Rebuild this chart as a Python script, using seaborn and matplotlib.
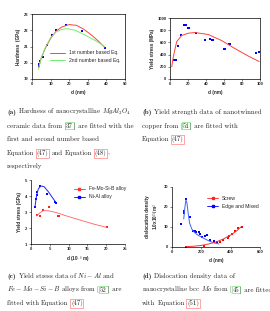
import numpy as np
import pandas as pd
import matplotlib
matplotlib.use("Agg")
import matplotlib.pyplot as plt
from matplotlib.lines import Line2D
import seaborn as sns

# (a) hardness of MgAl2O4
a_d = [3.5, 3.8, 4.0, 4.5, 5.9, 8.3, 11.0, 12.8, 18.5, 27.0, 39.2]
a_h = [19.8, 19.9, 19.95, 20.08, 20.36, 21.08, 21.7, 22.0, 22.3, 21.94, 20.92]
a_fit1_d = [3.5, 5, 7, 10, 13, 16, 20, 24, 28, 32, 36, 39]
a_fit1_h = [19.7, 20.3, 20.85, 21.5, 21.95, 22.2, 22.35, 22.3, 22.05, 21.7, 21.3, 20.95]
a_fit2_d = [3.5, 5, 7, 10, 13, 16, 19, 23, 27, 31, 35, 39]
a_fit2_h = [19.6, 20.3, 20.9, 21.55, 21.9, 22.05, 22.1, 22.0, 21.8, 21.55, 21.3, 21.0]

# (b) yield strength of nanotwinned copper
b_d = [4.8, 6.7, 9.3, 11.9, 15.9, 17.4, 20.4, 21.5, 28.5, 38.9, 44.4, 46.3, 48.0,
       60.4, 61.0, 65.5, 66.7, 96.0, 99.0]
b_s = [309, 309, 547, 718, 878, 890, 834, 834, 751, 641, 657, 641, 635,
       486, 492, 570, 570, 431, 442]
b_fit_d = [1.9, 3.7, 7.4, 13, 20.4, 27.8, 42.6, 57.4, 72, 87, 99]
b_fit_s = [199, 365, 613, 713, 751, 762, 729, 630, 500, 376, 287]

# (c) yield stress of alloys
c_fe_d = [1.7, 2.4, 3.1, 4.9, 7.3, 7.5, 20.3]
c_fe_s = [2.81, 2.75, 3.13, 3.29, 2.77, 2.77, 2.04]
c_fe_fit_d = [1.5, 2.4, 3.3, 4.6, 6.8, 9.5, 13, 16.6, 20.1]
c_fe_fit_s = [2.75, 2.96, 3.08, 3.08, 2.96, 2.75, 2.5, 2.25, 2.04]
c_ni_d = [1.06, 1.24, 1.5, 1.6, 2.4, 4.3, 6.4, 6.6]
c_ni_s = [3.33, 3.79, 4.08, 4.27, 4.63, 4.13, 3.6, 3.56]
c_ni_fit_d = [1.06, 1.5, 1.95, 2.6, 3.5, 4.6, 5.7, 6.6]
c_ni_fit_s = [3.33, 4.06, 4.44, 4.63, 4.58, 4.27, 3.9, 3.6]

# (d) dislocation density of bcc Mo
d_edge_d = [61, 79, 84, 97, 120, 140, 154, 165, 181, 188, 204, 226, 240, 260, 283, 306]
d_edge_r = [11.7, 17, 18, 24.2, 15, 7.8, 7.8, 7.5, 7.5, 6.7, 4.8, 5.3, 6.0, 3.7, 3.2, 2.7]
d_edge_fit_d = [80, 88, 95, 102, 110, 120, 135, 150, 175, 200, 230, 260, 290, 320]
d_edge_fit_r = [14, 20, 23.5, 22, 17, 12, 9, 7.5, 6, 5, 3.8, 2.8, 2.0, 1.5]
d_screw_d = [97, 215, 328, 351, 380, 392, 408, 430, 453, 475]
d_screw_r = [0.2, 0.7, 2.5, 3.3, 4.5, 5.7, 6.7, 8.2, 9.7, 10.0]
d_screw_fit_d = [100, 150, 200, 250, 300, 350, 400, 440, 470]
d_screw_fit_r = [0.2, 0.4, 0.8, 1.5, 2.5, 4.0, 6.0, 8.0, 10.0]

sns.set_theme(style="ticks")
plt.rcParams["font.family"] = ["Liberation Sans", "DejaVu Sans"]
plt.rcParams["mathtext.fontset"] = "cm"
plt.rcParams["axes.linewidth"] = 0.5

W, H = 270, 311
fig = plt.figure(figsize=(W / 100, H / 100), dpi=100)


def place(l, t, r, b):
    return fig.add_axes([l / W, 1 - b / H, (r - l) / W, (b - t) / H])


def style(ax, xlabel, ylabel, box=True):
    ax.tick_params(length=1.5, width=0.4, pad=1, labelsize=3)
    for lab in ax.get_xticklabels() + ax.get_yticklabels():
        lab.set_fontweight("bold")
    ax.set_xlabel(xlabel, fontsize=3.3, fontweight="bold", labelpad=2.5)
    ax.set_ylabel(ylabel, fontsize=3.3, fontweight="bold", labelpad=2)
    for s in ax.spines.values():
        s.set_linewidth(0.5)
        s.set_color("black")
    if not box:
        ax.spines["top"].set_visible(False)
        ax.spines["right"].set_visible(False)


mk = dict(marker="s", s=2.8, linewidth=0)

# (a)
ax = place(32, 14, 125, 79)
sns.lineplot(x=a_fit1_d, y=a_fit1_h, color="#ff4040", lw=0.7, sort=False,
             label="1st number based Eq.", ax=ax)
sns.lineplot(x=a_fit2_d, y=a_fit2_h, color="#70f070", lw=0.7, sort=False,
             label="2nd number based Eq.", ax=ax)
sns.scatterplot(x=a_d, y=a_h, color="#0000ff", ax=ax, **mk)
ax.set_xlim(0, 50)
ax.set_ylim(19, 23)
ax.set_xticks([0, 10, 20, 30, 40, 50])
ax.set_yticks([19, 20, 21, 22, 23])
ax.legend(loc="lower right", bbox_to_anchor=(1.0, 0.18), fontsize=3.6, frameon=False,
          handlelength=3, labelspacing=0.5)
style(ax, "d (nm)", "Hardness  (GPa)")

# (b)
ax = place(170, 18, 260, 79)
sns.lineplot(x=b_fit_d, y=b_fit_s, color="#ff4040", lw=0.7, sort=False, ax=ax)
sns.scatterplot(x=b_d, y=b_s, color="#0000ff", ax=ax, **mk)
ax.set_xlim(0, 100)
ax.set_ylim(0, 1000)
ax.set_xticks([0, 20, 40, 60, 80, 100])
ax.set_yticks([0, 200, 400, 600, 800, 1000])
style(ax, "d (nm)", "Yield stress (MPa)")

# (c)
ax = place(31, 180, 125, 244)
sns.lineplot(x=c_fe_fit_d, y=c_fe_fit_s, color="#ff6060", lw=0.6, sort=False, ax=ax)
sns.lineplot(x=c_ni_fit_d, y=c_ni_fit_s, color="#2020ff", lw=0.7, sort=False, ax=ax)
sns.scatterplot(x=c_fe_d, y=c_fe_s, color="#ff2020", ax=ax, marker="s", s=3.5, linewidth=0)
sns.scatterplot(x=c_ni_d, y=c_ni_s, color="#0000ff", ax=ax, marker="s", s=3.5, linewidth=0)
ax.set_xlim(0, 25)
ax.set_ylim(1, 5)
ax.set_xticks([0, 5, 10, 15, 20, 25])
ax.set_yticks([1, 2, 3, 4, 5])
hc = [Line2D([], [], color="#ff3030", lw=0.6, marker="s", ms=1.8, label="Fe-Mo-Si-B alloy"),
      Line2D([], [], color="#0000ff", lw=0.6, marker="s", ms=1.8, label="Ni-Al alloy")]
ax.legend(handles=hc, loc="upper right", bbox_to_anchor=(1.06, 0.97), fontsize=3.6,
          frameon=False, handlelength=2.2, labelspacing=0.6)
style(ax, r"d (10$^{\mathbf{-8}}$ m)", "Yield stress (GPa)", box=False)

# (d)
ax = place(172, 187, 260, 247)
sns.lineplot(x=d_edge_fit_d, y=d_edge_fit_r, color="#4060ff", lw=0.7, sort=False, ax=ax)
sns.lineplot(x=d_screw_fit_d, y=d_screw_fit_r, color="#ff3030", lw=0.7, sort=False, ax=ax)
sns.scatterplot(x=d_edge_d, y=d_edge_r, color="#0000ff", ax=ax, **mk)
sns.scatterplot(x=d_screw_d, y=d_screw_r, color="#ff0000", ax=ax, **mk)
ax.set_xlim(0, 600)
ax.set_ylim(0, 30)
ax.set_xticks([0, 200, 400, 600])
ax.set_yticks([0, 10, 20, 30])
hd = [Line2D([], [], color="#ff2020", lw=0.6, marker="s", ms=1.8, label="Screw"),
      Line2D([], [], color="#0000ff", lw=0.6, marker="s", ms=1.8, label="Edge and Mixed")]
ax.legend(handles=hd, loc="upper right", bbox_to_anchor=(1.04, 0.93), fontsize=3.6,
          frameon=False, handlelength=2.2, labelspacing=0.6)
style(ax, "d (nm)", "dislocation density\n" + r"1.0x10$^{\mathbf{15}}$/m$^{\mathbf{2}}$", box=False)

# captions, LaTeX-like with boxed links
FS = 4.9
SP = 2.25
renderer = fig.canvas.get_renderer()


def caption(x, y, segs):
    for seg in segs:
        if seg == " ":
            x += SP
            continue
        text, kind = seg
        kw = dict(fontsize=FS, family="cmr10", va="baseline", ha="left", color="#222222")
        if kind == "b":
            kw["family"] = "cmb10"
        elif kind == "cite":
            kw["bbox"] = dict(boxstyle="square,pad=0.12", fc="none", ec="#80dd80", lw=0.5)
        elif kind == "eq":
            kw["bbox"] = dict(boxstyle="square,pad=0.12", fc="none", ec="#ff8080", lw=0.5)
        t = fig.text(x / W, 1 - y / H, text, **kw)
        x += t.get_window_extent(renderer).width
        if kind in ("cite", "eq"):
            x += 0.8


def eq(n):
    return [("Equation", "n"), " ", ("(%s)" % n, "eq")]


caps = [
    (7, 114, [[("(a)", "b"), " ", ("Hardness of nanocrystalline $MgAl_2O_4$", "n")],
              [("ceramic data from [", "n"), ("37", "cite"), ("] are fitted with the", "n")],
              [("first and second number based", "n")],
              eq(47) + [" ", ("and", "n"), " "] + eq(48) + [(",", "n")],
              [("respectively", "n")]]),
    (142, 114, [[("(b)", "b"), " ", ("Yield strength data of nanotwinned", "n")],
                [("copper from [", "n"), ("51", "cite"), ("] are fitted with", "n")],
                eq(47)]),
    (7, 278, [[("(c)", "b"), " ", ("Yield stress data of $Ni-Al$ and", "n")],
              [("$Fe-Mo-Si-B$ alloys from [", "n"), ("52", "cite"), ("] are", "n")],
              [("fitted with", "n"), " "] + eq(47)]),
    (142, 278, [[("(d)", "b"), " ", ("Dislocation density data of", "n")],
                [("nanocrystalline bcc $Mo$ from [", "n"), ("45", "cite"), ("] are fitted", "n")],
                [("with", "n"), " "] + eq(51)]),
]
for x0, y0, lines in caps:
    for i, segs in enumerate(lines):
        caption(x0, y0 + i * 13.6, segs)

fig.savefig("out.png", dpi=100)
